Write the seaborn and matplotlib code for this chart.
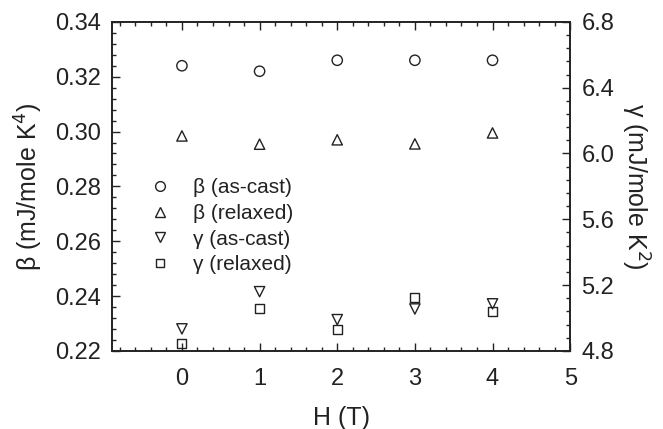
import numpy as np
import pandas as pd
import matplotlib
matplotlib.use("Agg")
import matplotlib.pyplot as plt
import seaborn as sns
from matplotlib.ticker import MultipleLocator, FormatStrFormatter
from matplotlib.lines import Line2D

# campo magnetico (T)
H = [0, 1, 2, 3, 4]

# beta (mJ/mole K^4) - eixo esquerdo
beta_ascast = [0.324, 0.322, 0.326, 0.326, 0.326]
beta_relaxed = [0.2984, 0.2954, 0.297, 0.2955, 0.2995]

# gamma (mJ/mole K^2) - eixo direito
gamma_ascast = [4.934, 5.16, 4.99, 5.055, 5.086]
gamma_relaxed = [4.847, 5.06, 4.928, 5.124, 5.039]

labels = ["\u03b2 (as-cast)", "\u03b2 (relaxed)", "\u03b3 (as-cast)", "\u03b3 (relaxed)"]

sns.set_style("ticks")
plt.rcParams["font.family"] = ["Liberation Sans", "DejaVu Sans"]
plt.rcParams["text.color"] = "#222222"
plt.rcParams["axes.labelcolor"] = "#222222"
plt.rcParams["xtick.color"] = "#222222"
plt.rcParams["ytick.color"] = "#222222"

fig = plt.figure(figsize=(6.63, 4.29), dpi=100)
ax = fig.add_axes([0.169, 0.182, 0.691, 0.767])
ax2 = ax.twinx()

kw = dict(s=55, facecolors="none", edgecolor="#222222", linewidth=1.0, legend=False)
sns.scatterplot(x=H, y=beta_ascast, marker="o", ax=ax, **kw)
sns.scatterplot(x=H, y=beta_relaxed, marker="^", ax=ax, **kw)
sns.scatterplot(x=H, y=gamma_ascast, marker="v", ax=ax2, **kw)
sns.scatterplot(x=H, y=gamma_relaxed, marker="s", ax=ax2, s=42, facecolors="none",
                edgecolor="#222222", linewidth=1.0, legend=False)

ax.set_xlim(-0.9, 5)
ax.set_ylim(0.22, 0.34)
ax2.set_ylim(4.8, 6.8)

ax.set_xticks([0, 1, 2, 3, 4, 5])
ax.xaxis.set_minor_locator(MultipleLocator(0.2))
ax.yaxis.set_major_locator(MultipleLocator(0.02))
ax.yaxis.set_minor_locator(MultipleLocator(0.004))
ax2.yaxis.set_major_locator(MultipleLocator(0.4))
ax2.yaxis.set_minor_locator(MultipleLocator(0.08))
ax.yaxis.set_major_formatter(FormatStrFormatter("%.2f"))
ax2.yaxis.set_major_formatter(FormatStrFormatter("%.1f"))

ax.tick_params(which="both", direction="in", top=True, right=False, labelsize=17, pad=8)
ax.tick_params(axis="x", which="both", pad=12)
ax.tick_params(which="major", length=6, width=1)
ax.tick_params(which="minor", length=3, width=1)
ax2.tick_params(which="both", direction="in", labelsize=17, pad=8)
ax2.tick_params(which="major", length=6, width=1)
ax2.tick_params(which="minor", length=3, width=1)

for a in (ax, ax2):
    for sp in a.spines.values():
        sp.set_linewidth(1.2)
        sp.set_color("#222222")

ax.set_xlabel("H (T)", fontsize=18, labelpad=12)
ax.set_ylabel("\u03b2 (mJ/mole K$^4$)", fontsize=18, labelpad=7)
ax2.set_ylabel("\u03b3 (mJ/mole K$^2$)", fontsize=18, rotation=270, labelpad=27)

# legenda combinada dos dois eixos
handles = []
for m, ms in zip(["o", "^", "v", "s"], [7, 7, 7, 6]):
    handles.append(Line2D([], [], marker=m, linestyle="none", markersize=ms,
                          markerfacecolor="none", markeredgecolor="#222222",
                          markeredgewidth=1.0))
ax.legend(handles, labels, loc="upper left", bbox_to_anchor=(0.04, 0.55),
          frameon=False, fontsize=15, handletextpad=0.6, labelspacing=0.32,
          borderaxespad=0)

fig.savefig("out.png", dpi=100)
